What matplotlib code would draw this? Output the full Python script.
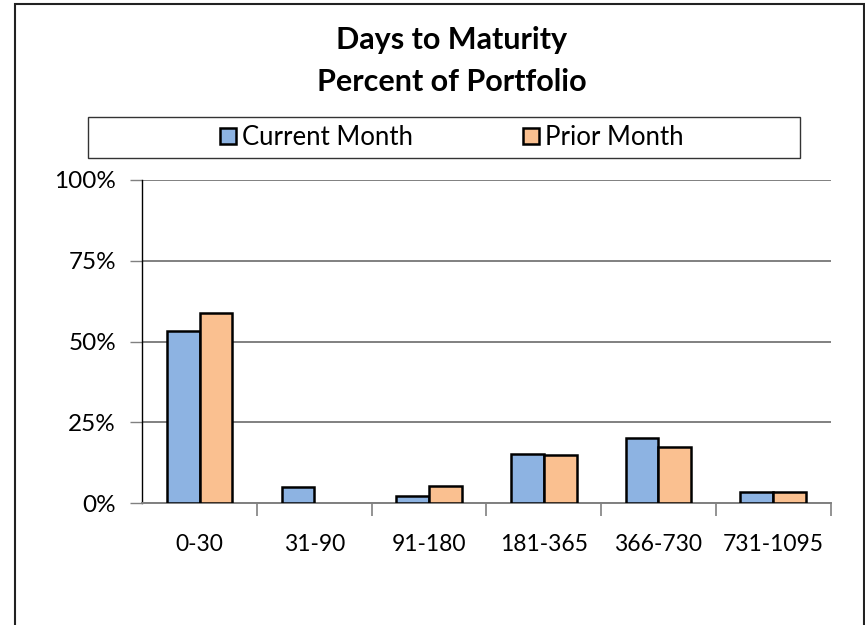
import matplotlib.pyplot as plt
import numpy as np
from matplotlib.patches import Rectangle
from matplotlib.ticker import FixedLocator

plt.rcParams['font.family'] = ['Lato', 'DejaVu Sans']

categories = ['0-30', '31-90', '91-180', '181-365', '366-730', '731-1095']
current_month = [53.2, 5.0, 2.4, 15.4, 20.1, 3.4]
prior_month = [58.8, 0.0, 5.4, 15.0, 17.5, 3.6]
y_ticks = [0, 25, 50, 75, 100]

fig = plt.figure(figsize=(8.65, 6.25), dpi=100)

# outer chart border
fig.patches.append(Rectangle((15 / 865, -0.05), 849 / 865, 1.0 - 4 / 625 + 0.05,
                             transform=fig.transFigure, fill=False,
                             edgecolor='#222222', linewidth=1.5))

ax = fig.add_axes([142.3 / 865, 1 - 503.3 / 625, 688.2 / 865, 323.3 / 625])

x = np.arange(len(categories))
w = 0.286
ax.bar(x - w / 2, current_month, w, color='#8DB3E2', edgecolor='black',
       linewidth=[1.8 if v > 0 else 0 for v in current_month],
       label='Current Month', zorder=3)
ax.bar(x + w / 2, prior_month, w, color='#FAC090', edgecolor='black',
       linewidth=[1.8 if v > 0 else 0 for v in prior_month],
       label='Prior Month', zorder=3)

ax.set_xlim(-0.5, len(categories) - 0.5)
ax.set_ylim(0, 100)
ax.set_yticks(y_ticks)
ax.set_yticklabels([f'{v}%' for v in y_ticks], fontsize=17.5)
ax.yaxis.grid(True, color='#808080', linewidth=1.4, zorder=0)
ax.tick_params(axis='y', length=9, width=1, color='#808080', pad=10)

ax.set_xticks(x)
ax.set_xticklabels(categories, fontsize=16.5)
ax.tick_params(axis='x', which='major', length=0, pad=22)
ax.xaxis.set_minor_locator(FixedLocator(np.arange(0.5, len(categories), 1.0)))
ax.tick_params(axis='x', which='minor', length=9, width=1.2, color='#808080',
               direction='out')

for s in ['top', 'right']:
    ax.spines[s].set_visible(False)
ax.spines['bottom'].set_color('#808080')
ax.spines['bottom'].set_linewidth(1.4)
ax.spines['left'].set_color('black')
ax.spines['left'].set_linewidth(1.0)

fig.text(452 / 865, 1 - 40 / 625, 'Days to Maturity', ha='center', va='center',
         fontsize=22, fontweight='bold')
fig.text(452 / 865, 1 - 82 / 625, 'Percent of Portfolio', ha='center', va='center',
         fontsize=22, fontweight='bold')

# legend box
fig.patches.append(Rectangle((88 / 865, 1 - 158 / 625), 712 / 865, 41 / 625,
                             transform=fig.transFigure, fill=False,
                             edgecolor='#333333', linewidth=1.0))
fig.legend(loc='center', bbox_to_anchor=(452 / 865, 1 - 137.5 / 625), ncol=2,
           frameon=False, fontsize=18.5, handlelength=0.6, handleheight=0.6,
           handletextpad=0.25, columnspacing=4.3)

fig.savefig('out.png', dpi=100)
